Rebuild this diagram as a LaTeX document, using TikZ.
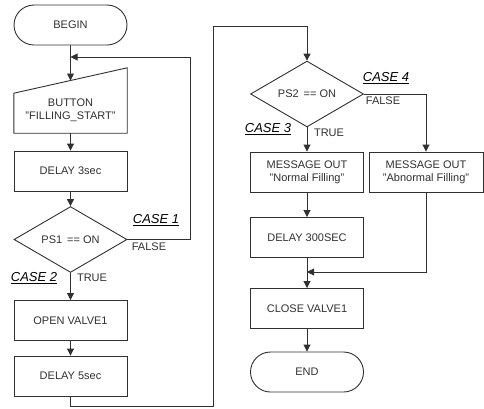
\documentclass[tikz,border=0pt]{standalone}
\usepackage{fontspec}
\setmainfont{Liberation Sans}
\usetikzlibrary{arrows.meta,shapes.geometric,calc}
\definecolor{ink}{HTML}{303030}
\begin{document}
\begin{tikzpicture}[x=1pt,y=-1pt,
  every node/.style={text=ink, font=\fontsize{11}{13}\selectfont},
  line/.style={draw=ink, line width=0.9pt},
  arr/.style={line, -{Triangle[width=7pt,length=7pt]}},
  stepbox/.style={line, rectangle, minimum width=113pt, minimum height=40pt, inner sep=0pt, align=center},
  termbox/.style={stepbox, rounded corners=20pt},
  decbox/.style={line, diamond, minimum width=113pt, minimum height=58pt, inner sep=0pt},
  casetag/.style={font=\fontsize{13}{15}\selectfont\itshape, text=black, inner sep=1pt},
]
\useasboundingbox (0,0) rectangle (484,408);

% left column
\node[termbox] (begin) at (70.5,25) {BEGIN};
\node[minimum width=113pt, minimum height=65pt, inner sep=0pt] (btn) at (70.5,100.5) {};
\draw[line] (btn.south west) -- (btn.south east) -- (btn.north east)
  -- ($(btn.south west)+(0,-40)$) -- cycle;
\coordinate (btntop) at ($(btn.north east)!0.5!($(btn.south west)+(0,-40)$)$);
\node[align=center] (btntxt) at (70.5,110) {BUTTON\\"FILLING\_START"};
\node[stepbox] (d3) at (70.5,171) {DELAY 3sec};
\node[decbox] (ps1) at (70.5,239.5) {PS1 \,== ON};
\node[stepbox] (open) at (70.5,320.5) {OPEN VALVE1};
\node[stepbox] (d5) at (70.5,376) {DELAY 5sec};

% right column
\node[decbox] (ps2) at (307,94) {PS2 \,== ON};
\node[stepbox, align=center] (msgn) at (307,172) {MESSAGE OUT\\"Normal Filling"};
\node[stepbox, minimum width=114pt, align=center] (msga) at (426,172) {MESSAGE OUT\\"Abnormal Filling"};
\node[stepbox] (d300) at (307,237.5) {DELAY 300SEC};
\node[stepbox] (close) at (307,308.5) {CLOSE VALVE1};
\node[termbox] (end) at (307,372) {END};

% junctions and bends
\coordinate (j1) at (70.5,57);
\coordinate (c1) at (190,57);
\coordinate (lb) at (70.5,406);
\coordinate (rb) at (213,406);
\coordinate (rt) at (213,26);
\coordinate (j2) at (307,272);

% connectors
\draw[arr] (begin) -- (btntop);
\draw[arr] (btn.south) -- (d3);
\draw[arr] (d3) -- (ps1);
\draw[arr] (ps1) -- (open);
\draw[arr] (open) -- (d5);
\draw[arr] (ps1.east) -| (c1) -- (j1);
\draw[arr] (d5.south) -- (lb) -- (rb) -- (rt) -| (ps2.north);
\draw[arr] (ps2.east) -| (msga.north);
\draw[arr] (ps2) -- (msgn);
\draw[arr] (msgn) -- (d300);
\draw[arr] (d300) -- (close);
\draw[arr] (msga.south) |- (j2);
\draw[arr] (close) -- (end);

% branch labels
\node[casetag] (k1) at (156,220) {\underline{CASE 1}};
\node (f1) at (149,247) {FALSE};
\node[casetag] (k2) at (34,278) {\underline{CASE 2}};
\node (t1) at (92,278) {TRUE};
\node[casetag] (k4) at (386,78) {\underline{CASE 4}};
\node (f2) at (383,101) {FALSE};
\node[casetag] (k3) at (268,129) {\underline{CASE 3}};
\node (t2) at (329,133) {TRUE};
\end{tikzpicture}
\end{document}
